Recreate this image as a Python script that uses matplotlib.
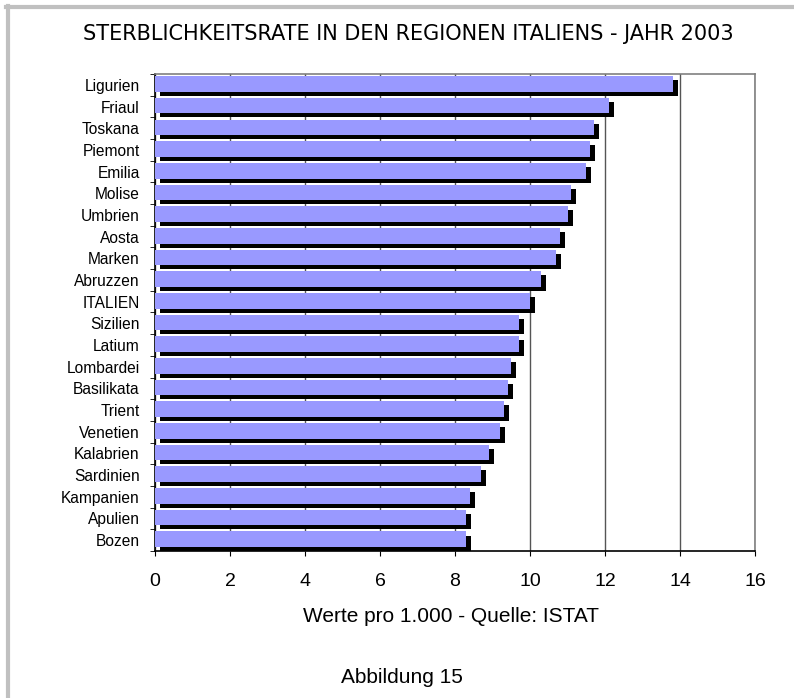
import matplotlib
matplotlib.use("Agg")
import matplotlib.pyplot as plt
import matplotlib.patheffects as pe
from matplotlib.lines import Line2D
import numpy as np

# Daten (Werte pro 1.000 Einwohner)
regionen = ['Ligurien', 'Friaul', 'Toskana', 'Piemont', 'Emilia', 'Molise',
            'Umbrien', 'Aosta', 'Marken', 'Abruzzen', 'ITALIEN', 'Sizilien',
            'Latium', 'Lombardei', 'Basilikata', 'Trient', 'Venetien',
            'Kalabrien', 'Sardinien', 'Kampanien', 'Apulien', 'Bozen']
werte = [13.8, 12.1, 11.7, 11.6, 11.5, 11.1,
         11.0, 10.8, 10.7, 10.3, 10.0, 9.7,
         9.7, 9.5, 9.4, 9.3, 9.2,
         8.9, 8.7, 8.4, 8.3, 8.3]
xticks = [0, 2, 4, 6, 8, 10, 12, 14, 16]

arial = 'Liberation Sans'

fig = plt.figure(figsize=(7.94, 6.98), dpi=100)
ax = fig.add_axes([155/794, 1-551/698, 600/794, 477/698])

y = np.arange(len(regionen))[::-1]
schatten = [pe.SimplePatchShadow(offset=(3.6, -2.9), shadow_rgbFace='black', alpha=1.0),
            pe.Normal()]
bars = ax.barh(y + 0.04, werte, height=0.72, color='#9999FF', zorder=3)
for b in bars:
    b.set_path_effects(schatten)

ax.set_xlim(0, 16)
ax.set_ylim(-0.5, len(regionen) - 0.5)
ax.set_xticks(xticks)
ax.set_xticklabels([str(t) for t in xticks], fontsize=14, family=arial)
ax.set_yticks(y)
ax.set_yticklabels(regionen, fontsize=11.2, family=arial)
ax.tick_params(axis='y', length=0, pad=11)
ax.tick_params(axis='x', length=3.5, direction='out', pad=12, color='black')
ax.set_yticks(np.arange(-0.5, len(regionen)), minor=True)
ax.tick_params(axis='y', which='minor', length=3.6, direction='out', color='black')

ax.grid(axis='x', color='#555555', linewidth=1.0, zorder=0)
ax.set_axisbelow(True)
for s in ['top', 'right']:
    ax.spines[s].set_color('#808080')
    ax.spines[s].set_linewidth(1.2)
for s in ['left', 'bottom']:
    ax.spines[s].set_color('black')
    ax.spines[s].set_linewidth(1.2)

fig.text(451/794, 1-622/698, 'Werte pro 1.000 - Quelle: ISTAT', ha='center',
         va='baseline', fontsize=15, family=arial)
fig.text(408/794, 1-40/698, 'STERBLICHKEITSRATE IN DEN REGIONEN ITALIENS - JAHR 2003',
         ha='center', va='baseline', fontsize=15, family='DejaVu Sans')
fig.text(402/794, 1-683/698, 'Abbildung 15', ha='center', va='baseline',
         fontsize=15, family=arial)

# grauer Rahmen links und oben
fig.add_artist(Line2D([8/794, 8/794], [0, 1-6/698], color='#C0C0C0', linewidth=3,
                      transform=fig.transFigure))
fig.add_artist(Line2D([6/794, 1], [1-6.5/698, 1-6.5/698], color='#C0C0C0', linewidth=3,
                      transform=fig.transFigure))

fig.savefig('out.png', dpi=100)
